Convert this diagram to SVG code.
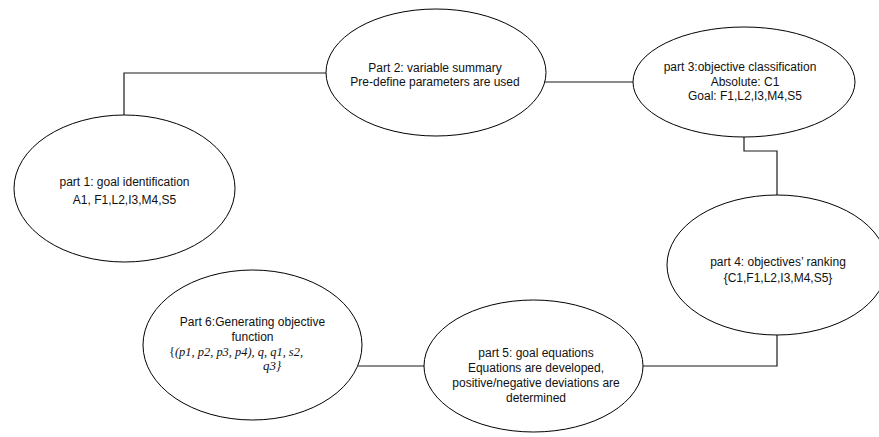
<svg xmlns="http://www.w3.org/2000/svg" width="879" height="437" viewBox="0 0 879 437">
<style>
.n{fill:#fff;stroke:#000;stroke-width:1}
.c{fill:none;stroke:#1a1a1a;stroke-width:1.2}
.t{font-family:"Liberation Sans",Arial,sans-serif;font-size:12px;fill:#111;text-anchor:middle}
.m{font-family:"Liberation Serif","Times New Roman",serif;font-size:13px;font-style:italic;fill:#111}
</style>
<rect width="879" height="437" fill="#fff"/>
<g id="connectors">
<polyline class="c" points="124,115 124,73 326,73"/>
<polyline class="c" points="545,82 633,82"/>
<polyline class="c" points="744,137 744,151 777,151 777,195"/>
<polyline class="c" points="358,366 424,366"/>
<polyline class="c" points="643,366 777,366 777,335"/>
</g>
<g id="part1">
<ellipse class="n" cx="124.5" cy="188.5" rx="110.5" ry="73.5"/>
<text class="t" x="124.5" y="186">part 1: goal identification</text>
<text class="t" x="124.5" y="204">A1, F1,L2,I3,M4,S5</text>
</g>
<g id="part2">
<ellipse class="n" cx="436" cy="72.5" rx="110" ry="63.5"/>
<text class="t" x="435" y="72">Part 2: variable summary</text>
<text class="t" x="435" y="86">Pre-define parameters are used</text>
</g>
<g id="part3">
<ellipse class="n" cx="744" cy="82" rx="111" ry="55"/>
<text class="t" x="740" y="71">part 3:objective classification</text>
<text class="t" x="745" y="86">Absolute: C1</text>
<text class="t" x="745" y="100">Goal: F1,L2,I3,M4,S5</text>
</g>
<g id="part4">
<ellipse class="n" cx="777" cy="265" rx="110" ry="70"/>
<text class="t" x="778" y="266">part 4: objectives’ ranking</text>
<text class="t" x="778" y="282">{C1,F1,L2,I3,M4,S5}</text>
</g>
<g id="part5">
<ellipse class="n" cx="533.5" cy="366" rx="109.5" ry="66"/>
<text class="t" x="536" y="357">part 5: goal equations</text>
<text class="t" x="536" y="372">Equations are developed,</text>
<text class="t" x="536" y="387">positive/negative deviations are</text>
<text class="t" x="536" y="402">determined</text>
</g>
<g id="part6">
<ellipse class="n" cx="252.5" cy="345" rx="109.5" ry="75"/>
<text class="t" x="252.5" y="326">Part 6:Generating objective</text>
<text class="t" x="252.5" y="341">function</text>
<text class="m" x="169" y="356" textLength="134" lengthAdjust="spacingAndGlyphs"><tspan font-style="normal">{</tspan>(p1, p2, p3, p4), q, q1, s2,</text>
<text class="m" x="263" y="370">q3}</text>
</g>
</svg>
